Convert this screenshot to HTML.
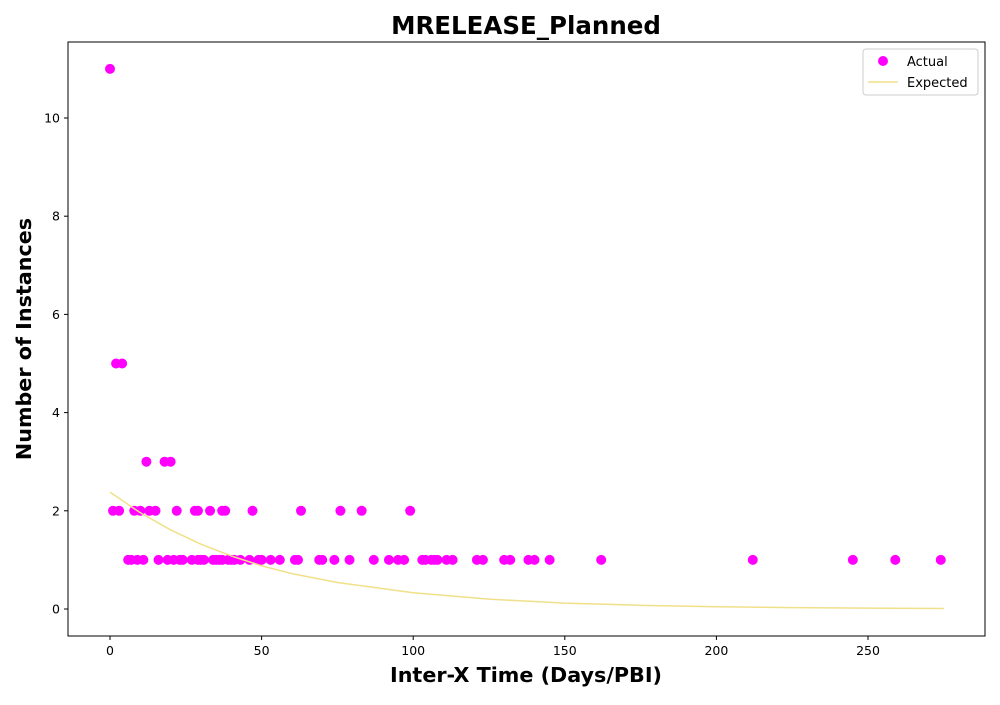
<!DOCTYPE html>
<html><head><meta charset="utf-8"><style>
body{margin:0;background:#fff;font-family:"Liberation Sans","DejaVu Sans",sans-serif;}
svg text{font-family:"DejaVu Sans","Liberation Sans",sans-serif;}
</style></head><body>
<svg id="c" width="1000" height="700" xmlns="http://www.w3.org/2000/svg">
<text x="526" y="34" text-anchor="middle" font-size="24.5" font-weight="bold">MRELEASE_Planned</text>
<text x="526" y="682" text-anchor="middle" font-size="20.7" font-weight="bold">Inter-X Time (Days/PBI)</text>
<text transform="translate(31,339) rotate(-90)" text-anchor="middle" font-size="20.7" font-weight="bold">Number of Instances</text>
<g id="marks"></g>
<rect x="68" y="42" width="917" height="594" fill="none" stroke="#000" stroke-width="1"/>
<g>
<rect x="863" y="49" width="115" height="46" rx="3" fill="#fff" stroke="#ccc"/>
<circle cx="883" cy="61" r="5" fill="#ff00ff"/>
<text x="907" y="66" font-size="13">Actual</text>
<line x1="868" y1="82" x2="898" y2="82" stroke="#f0e08a" stroke-width="1.5"/>
<text x="907" y="87" font-size="13">Expected</text>
</g>
</svg>
<script>
const actualX=[0,2,4,12,18,20,1,3,8,10,13,15,22,28,29,33,37,38,47,63,76,83,99,
6,7,9,11,16,19,21,23,24,27,29,30,31,34,35,36,37,39,40,41,43,46,49,50,53,56,61,62,69,70,74,79,87,92,95,97,103,104,106,107,108,111,113,121,123,130,132,138,140,145,162,212,245,259,274];
const actualY=[11,5,5,3,3,3,2,2,2,2,2,2,2,2,2,2,2,2,2,2,2,2,2,
1,1,1,1,1,1,1,1,1,1,1,1,1,1,1,1,1,1,1,1,1,1,1,1,1,1,1,1,1,1,1,1,1,1,1,1,1,1,1,1,1,1,1,1,1,1,1,1,1,1,1,1,1,1,1];
const expX=[0,10,20,30,40,50,60,75,100,125,150,175,200,225,250,275];
const expY=[2.38,1.96,1.61,1.32,1.08,0.88,0.72,0.54,0.33,0.20,0.12,0.075,0.045,0.028,0.017,0.01];
const xTicks=[0,50,100,150,200,250];
const yTicks=[0,2,4,6,8,10];
const NS="http://www.w3.org/2000/svg";
const sx=v=>110+v*3.032;
const sy=v=>609-v*49.1;
const svg=document.getElementById('c'),g=document.getElementById('marks');
function mk(t,a,p){const e=document.createElementNS(NS,t);for(const k in a)e.setAttribute(k,a[k]);(p||g).appendChild(e);return e;}
xTicks.forEach(v=>{
 const l=mk('line',{x1:sx(v),x2:sx(v),y1:636,y2:640,stroke:'#000'});
 
 
 const t=mk('text',{x:sx(v),y:655,'text-anchor':'middle','font-size':12.5});t.textContent=v;
 
 
});
yTicks.forEach(v=>{
 const l=mk('line',{x1:64,x2:68,y1:sy(v),y2:sy(v),stroke:'#000'});
 
 
 const t=mk('text',{x:60,y:sy(v)+4.5,'text-anchor':'end','font-size':12.5});t.textContent=v;
 
 
});
actualX.forEach((x,i)=>{
 const c=mk('circle',{cx:sx(x),cy:sy(actualY[i]),r:5,fill:'#ff00ff'});
 
 
});
const p=mk('polyline',{points:expX.map((x,i)=>sx(x)+','+sy(expY[i])).join(' '),fill:'none',stroke:'#f0e08a','stroke-width':1.5});


</script>
</body></html>
